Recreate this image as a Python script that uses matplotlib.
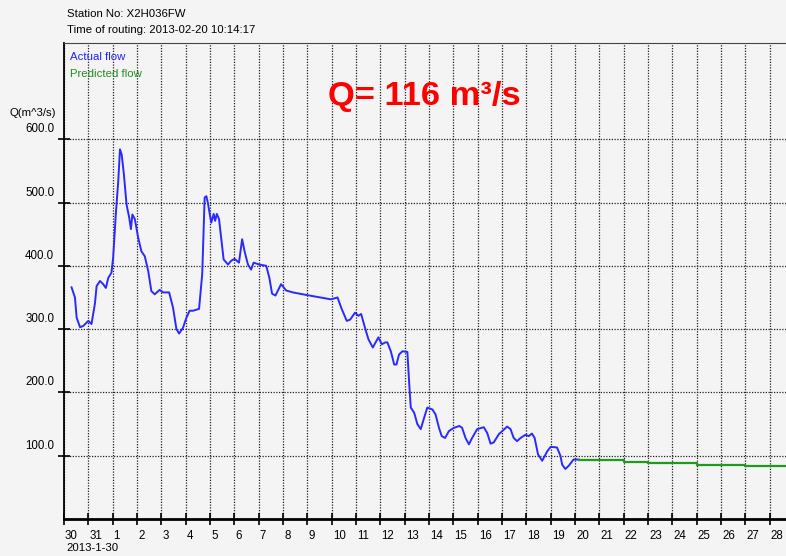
import matplotlib
matplotlib.use("Agg")
import matplotlib.pyplot as plt
import matplotlib.transforms as mtransforms

# day index: 0 = 2013-01-30, 2 = 2013-02-01, ...
actual_days = [0.31, 0.45, 0.52, 0.66, 0.79, 1.0, 1.13, 1.27, 1.34, 1.48, 1.61, 1.72, 1.82, 1.95,
               2.02, 2.13, 2.23, 2.30, 2.37, 2.46, 2.57, 2.68, 2.75, 2.81, 2.91, 3.05, 3.18, 3.32,
               3.46, 3.59, 3.73, 3.93, 4.07, 4.32, 4.48, 4.62, 4.73, 4.89, 5.03, 5.16, 5.30, 5.55,
               5.68, 5.78, 5.85, 5.91, 6.05, 6.15, 6.21, 6.28, 6.37, 6.46, 6.56, 6.74, 6.87, 7.01,
               7.19, 7.32, 7.42, 7.56, 7.69, 7.79, 8.03, 8.31, 8.44, 8.55, 8.69, 8.92, 9.13, 9.40,
               9.67, 9.95, 10.97, 11.24, 11.41, 11.62, 11.76, 11.96, 12.10, 12.21,
               12.37, 12.51, 12.69, 12.92, 13.06, 13.20, 13.29, 13.43, 13.57, 13.66, 13.77,
               13.91, 14.11, 14.18, 14.25, 14.39, 14.52, 14.66, 14.80, 14.93, 15.14, 15.27, 15.41,
               15.52, 15.66, 15.82, 16.02, 16.25, 16.36, 16.50, 16.64, 16.77, 16.98, 17.25, 17.39,
               17.53, 17.66, 17.87, 18.21, 18.35, 18.48, 18.62, 18.76, 18.96, 19.10, 19.23, 19.34,
               19.48, 19.65, 19.86, 20.0, 20.26, 20.40, 20.47, 20.60, 20.74, 20.94, 21.15]
actual_flow = [366, 350, 318, 303, 305, 313, 308, 340, 368, 376, 371, 365, 381, 389,
               413, 482, 534, 584, 576, 545, 497, 476, 458, 481, 474, 444, 423, 415,
               392, 360, 355, 362, 358, 358, 334, 300, 293, 302, 318, 329, 329, 332,
               387, 508, 510, 500, 468, 482, 471, 482, 474, 444, 410, 402, 408, 411,
               405, 442, 423, 402, 394, 405, 402, 400, 381, 356, 353, 371, 361, 358,
               356, 354, 347, 350, 332, 313, 315, 326, 321, 324,
               302, 284, 271, 287, 276, 279, 279, 265, 244, 244, 260,
               265, 264, 218, 176, 168, 150, 142, 160, 176, 173, 165, 144,
               131, 128, 139, 144, 147, 144, 128, 118, 128, 142, 145, 136,
               119, 121, 134, 146, 142, 128, 123, 128, 133, 131, 135, 128,
               102, 92, 107, 114, 113, 100, 86, 79, 84, 94, 94]

pred_days = [21.15, 23.0, 24.0, 26.0, 28.0, 29.7]
pred_flow = [93, 90.5, 88, 85.5, 83, 83]

tick_days = list(range(30))
tick_labels = ["30", "31"] + [str(d) for d in range(1, 29)]
y_ticks = [100, 200, 300, 400, 500, 600]

bg = "#f4f4f4"
plt.rcParams["font.family"] = ["Liberation Sans", "DejaVu Sans"]

fig = plt.figure(figsize=(7.86, 5.56), dpi=100, facecolor=bg)
ax = fig.add_axes([64 / 786, 37 / 556, 1 - 64 / 786, 476 / 556], facecolor=bg)

ax.plot(actual_days, actual_flow, color="#2a2aff", lw=1.4)
ax.step(pred_days, pred_flow, where="post", color="#1f9a1f", lw=1.6)

ax.set_xlim(0, 29.67)
ax.set_ylim(0, 752)
ax.set_xticks(tick_days)
ax.set_xticklabels(tick_labels)
ax.set_yticks(y_ticks)
ax.set_yticklabels([f"{v:.1f}" for v in y_ticks])

ax.grid(True, color="#222222", linestyle=(0, (1, 1.2)), lw=0.9)
ax.tick_params(axis="both", direction="inout", length=8, width=1.2, labelsize=8.3, colors="black")
ax.tick_params(axis="x", pad=4)
ax.tick_params(axis="y", pad=3)

for lbl in ax.get_xticklabels():
    lbl.set_ha("left")
    lbl.set_transform(lbl.get_transform() + mtransforms.ScaledTranslation(1 / 100, 0, fig.dpi_scale_trans))
for lbl in ax.get_yticklabels():
    lbl.set_va("center")
    lbl.set_transform(lbl.get_transform() + mtransforms.ScaledTranslation(0, 10 / 100, fig.dpi_scale_trans))

ax.spines["right"].set_visible(False)
ax.spines["left"].set_linewidth(1.3)
ax.spines["bottom"].set_linewidth(2)
ax.spines["top"].set_linewidth(0.8)
ax.spines["top"].set_color("#444444")

# header and labels (pixel positions converted to figure coords)
def fx(px):
    return px / 786

def fy(py):
    return 1 - py / 556

fig.text(fx(67), fy(14), "Station No: X2H036FW", fontsize=8.2, va="center")
fig.text(fx(67), fy(30), "Time of routing: 2013-02-20 10:14:17", fontsize=8.2, va="center")
fig.text(fx(70), fy(57), "Actual flow", fontsize=8.2, va="center", color="#2020ff")
fig.text(fx(70), fy(74), "Predicted flow", fontsize=8.2, va="center", color="#1f8f1f")
fig.text(fx(56), fy(113), "Q(m^3/s)", fontsize=8.2, va="center", ha="right")
fig.text(fx(66), fy(548), "2013-1-30", fontsize=8.2, va="center")
fig.text(fx(328), fy(96), "Q= 116 m³/s", fontsize=24.8, fontweight="bold", color="#ff0000", va="center")

fig.savefig("out.png", dpi=100, facecolor=bg)
